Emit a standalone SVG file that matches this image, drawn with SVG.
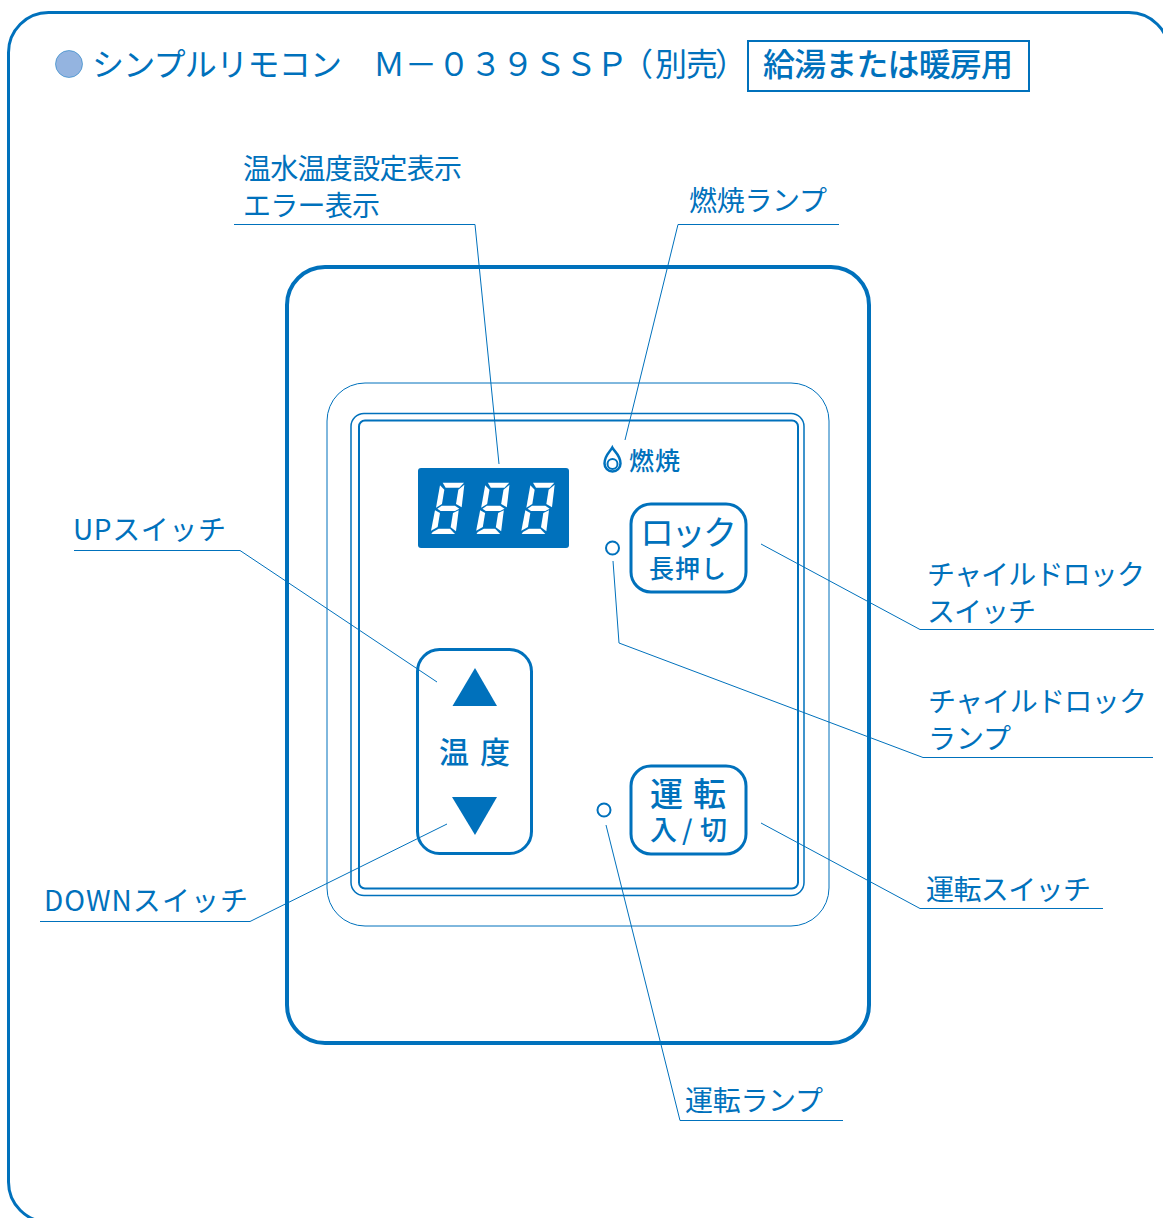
<svg xmlns="http://www.w3.org/2000/svg" width="1163" height="1218" viewBox="0 0 1163 1218">
<style>
text{font-family:"Noto Sans CJK JP","Noto Sans",sans-serif;fill:#0071bc}
.l{font-size:28px;font-weight:400}
.t{font-size:32px;font-weight:400}
.b{font-weight:500}
.r{font-weight:400}
.k{fill:none;stroke:#0071bc}
.c{fill:none;stroke:#0071bc;stroke-width:1}
.f{fill:#0071bc}
.s{fill:#fff}
</style>
<defs>
<g id="digit">
<polygon points="128,158 192,158 178,173 137,173"/>
<polygon points="120,166 133,179 126,222 108,233"/>
<polygon points="193,164 185,232 168,222 175,179"/>
<polygon points="112,236 125,227 165,227 178,236 165,243 122,243"/>
<polygon points="105,241 120,249 113,291 93,302"/>
<polygon points="176,241 168,304 152,292 159,249"/>
<polygon points="98,306 116,296 150,296 165,312 94,312"/>
</g>
</defs>
<path id="frame" class="k" stroke-width="3" d="M1169 1218V52.500A40 40 0 0 0 1129 12.500H48.500A40 40 0 0 0 8.500 52.500V1182A40 40 0 0 0 48.500 1222"/>
<g id="title">
<circle cx="69" cy="64" r="13.500" fill="#94b4e0" stroke="#0071bc" stroke-width=".5"/>
<text class="t" x="92" y="76" textLength="250">シンプルリモコン</text>
<text class="t" x="373 405 438 470 502 534 565 596 621 655 686 715" y="76">Ｍ－０３９ＳＳＰ（別売）</text>
</g>
<g id="usage">
<rect class="k" x="748" y="41" width="281" height="50" stroke-width="2"/>
<text class="t b" x="763" y="76" textLength="250">給湯または暖房用</text>
</g>
<g id="connectors">
<polyline class="c" points="234,224.500 475,224.500 499,464"/>
<polyline class="c" points="839,224.500 678,224.500 625,440"/>
<polyline class="c" points="74,550.500 240,550.500 437,682"/>
<polyline class="c" points="40,921.500 250,921.500 447,824"/>
<polyline class="c" points="1154,629.500 920,629.500 761,544"/>
<polyline class="c" points="1153,757.500 923,757.500 619,643 613,561"/>
<polyline class="c" points="1103,908.500 920,908.500 761,823"/>
<polyline class="c" points="843,1120.500 680,1120.500 606,825"/>
</g>
<g id="panel">
<rect class="k" x="287" y="267" width="582" height="776" rx="38" stroke-width="4"/>
<rect class="k" x="327" y="383" width="502" height="543" rx="38" stroke-width="1"/>
<rect class="k" x="351" y="413.500" width="453" height="482" rx="13" stroke-width="1.500"/>
<rect class="k" x="359" y="420.500" width="439" height="468" rx="6" stroke-width="2"/>
</g>
<g id="display">
<rect class="f" x="418" y="468" width="151" height="80" rx="3"/>
<g class="s" transform="translate(400 430) scale(.3333)">
<use href="#digit"/>
<use href="#digit" x="135.500"/>
<use href="#digit" x="271"/>
</g>
</g>
<g id="burn-lamp">
<path class="k" stroke-width="2.500" d="M612.300 447.500C610 452 604.500 455 604.500 463.500A8 8 0 0 0 620.500 463.500C620.500 455 614.500 452 612.300 447.500Z"/>
<circle class="k" cx="612.500" cy="464" r="5" stroke-width="2"/>
<text class="b" x="629" y="470" font-size="25" textLength="51">燃焼</text>
</g>
<g id="lock-switch">
<rect class="k" x="631" y="504" width="115" height="88" rx="20" stroke-width="3"/>
<text class="r" x="640" y="545" font-size="34" textLength="97">ロック</text>
<text class="b" x="649" y="578" font-size="25" textLength="77">長押し</text>
</g>
<circle id="lock-lamp" class="k" cx="612.500" cy="548" r="6.500" stroke-width="2"/>
<g id="temp-switch">
<rect class="k" x="417.500" y="649.500" width="114" height="204" rx="22" stroke-width="3"/>
<polygon class="f" points="475,668 452.500,706 497,706"/>
<polygon class="f" points="452,797 497,797 475,835"/>
<text class="b" x="439 480" y="763" font-size="30">温度</text>
</g>
<circle id="run-lamp" class="k" cx="604" cy="810" r="6.500" stroke-width="2"/>
<g id="run-switch">
<rect class="k" x="631" y="766" width="115" height="88" rx="20" stroke-width="3"/>
<text class="b" x="650 693" y="806" font-size="33">運転</text>
<text class="b" x="650 682 700" y="840" font-size="27">入/切</text>
</g>
<g id="labels">
<text class="l" x="243" y="179" textLength="219">温水温度設定表示</text>
<text class="l" x="243" y="216" textLength="137">エラー表示</text>
<text class="l" x="689" y="211" textLength="138">燃焼ランプ</text>
<text class="l" x="73" y="540" textLength="153">UPスイッチ</text>
<text class="l" x="44" y="911" textLength="204">DOWNスイッチ</text>
<text class="l" x="927" y="585" textLength="218">チャイルドロック</text>
<text class="l" x="927" y="622" textLength="109">スイッチ</text>
<text class="l" x="928" y="712" textLength="219">チャイルドロック</text>
<text class="l" x="928" y="749" textLength="83">ランプ</text>
<text class="l" x="926" y="900" textLength="165">運転スイッチ</text>
<text class="l" x="685" y="1111" textLength="138">運転ランプ</text>
</g>
</svg>
